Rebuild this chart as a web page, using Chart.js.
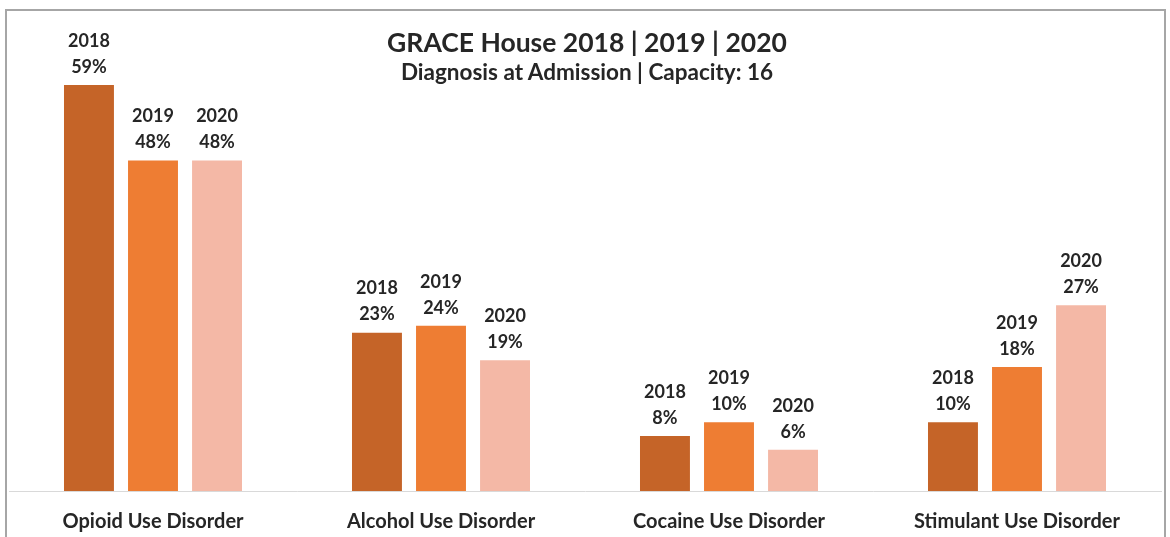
<!DOCTYPE html>
<html lang="en">
<head>
    <meta charset="UTF-8">
    <title>GRACE House 2018 | 2019 | 2020</title>
    <style>
        body {
            margin: 0;
            background: #fff;
            font-family: Lato, "Open Sans", sans-serif;
            overflow: hidden;
        }
        .wrap {
            position: relative;
            width: 1170px;
            height: 537px;
        }
        .frame {
            position: absolute;
            left: 5px;
            top: 9px;
            width: 1157px;
            height: 600px;
            border: 2px solid #a6a6a6;
        }
        .titles {
            position: absolute;
            left: 0;
            top: 26px;
            width: 1174px;
            text-align: center;
            color: #262626;
            font-weight: bold;
        }
        .titles h1 {
            margin: 0;
            font-size: 26.5px;
            line-height: 32px;
        }
        .titles h2 {
            margin: 0;
            font-size: 22.5px;
            line-height: 28px;
        }
        canvas {
            position: absolute;
            left: 0;
            top: 0;
        }
    </style>
</head>
<body>
    <div class="wrap">
        <div class="frame"></div>
        <canvas id="chart" width="1170" height="537"></canvas>
        <div class="titles">
            <h1>GRACE House 2018 | 2019 | 2020</h1>
            <h2>Diagnosis at Admission | Capacity: 16</h2>
        </div>
    </div>
    <script src="https://cdn.jsdelivr.net/npm/chart.js"></script>
    <script>
        const categories = ['Opioid Use Disorder', 'Alcohol Use Disorder', 'Cocaine Use Disorder', 'Stimulant Use Disorder'];
        const years = ['2018', '2019', '2020'];
        const values2018 = [59, 23, 8, 10];
        const values2019 = [48, 24, 10, 18];
        const values2020 = [48, 19, 6, 27];
        const colors = ['#c56428', '#ee7d33', '#f4b8a6'];

        const font = 'Lato, "Open Sans", sans-serif';

        // two-line label (year over percent) above each bar
        const barLabels = {
            id: 'barLabels',
            afterDatasetsDraw(chart) {
                const ctx = chart.ctx;
                ctx.save();
                ctx.fillStyle = '#262626';
                ctx.font = 'bold 18px ' + font;
                ctx.textAlign = 'center';
                ctx.textBaseline = 'middle';
                chart.data.datasets.forEach((ds, i) => {
                    chart.getDatasetMeta(i).data.forEach((bar, j) => {
                        ctx.fillText(ds.label, bar.x, bar.y - 44);
                        ctx.fillText(ds.data[j] + '%', bar.x, bar.y - 18);
                    });
                });
                ctx.restore();
            }
        };

        const ctx = document.getElementById('chart').getContext('2d');
        new Chart(ctx, {
            type: 'bar',
            data: {
                labels: categories,
                datasets: [values2018, values2019, values2020].map((d, i) => ({
                    label: years[i],
                    data: d,
                    backgroundColor: colors[i],
                    categoryPercentage: 0.667,
                    barPercentage: 0.78
                }))
            },
            options: {
                responsive: false,
                animation: false,
                layout: { padding: { left: 9, right: 9, top: 78, bottom: 0 } },
                plugins: {
                    legend: { display: false },
                    tooltip: { enabled: false }
                },
                scales: {
                    x: {
                        grid: { display: false },
                        border: { display: true, color: '#d9d9d9', width: 1 },
                        ticks: {
                            color: '#262626',
                            font: { family: font, size: 20, weight: 'bold' },
                            padding: 11
                        },
                        afterFit(scale) { scale.height = 46; }
                    },
                    y: {
                        display: false,
                        min: 0,
                        max: 60
                    }
                }
            },
            plugins: [barLabels]
        });
    </script>
</body>
</html>
